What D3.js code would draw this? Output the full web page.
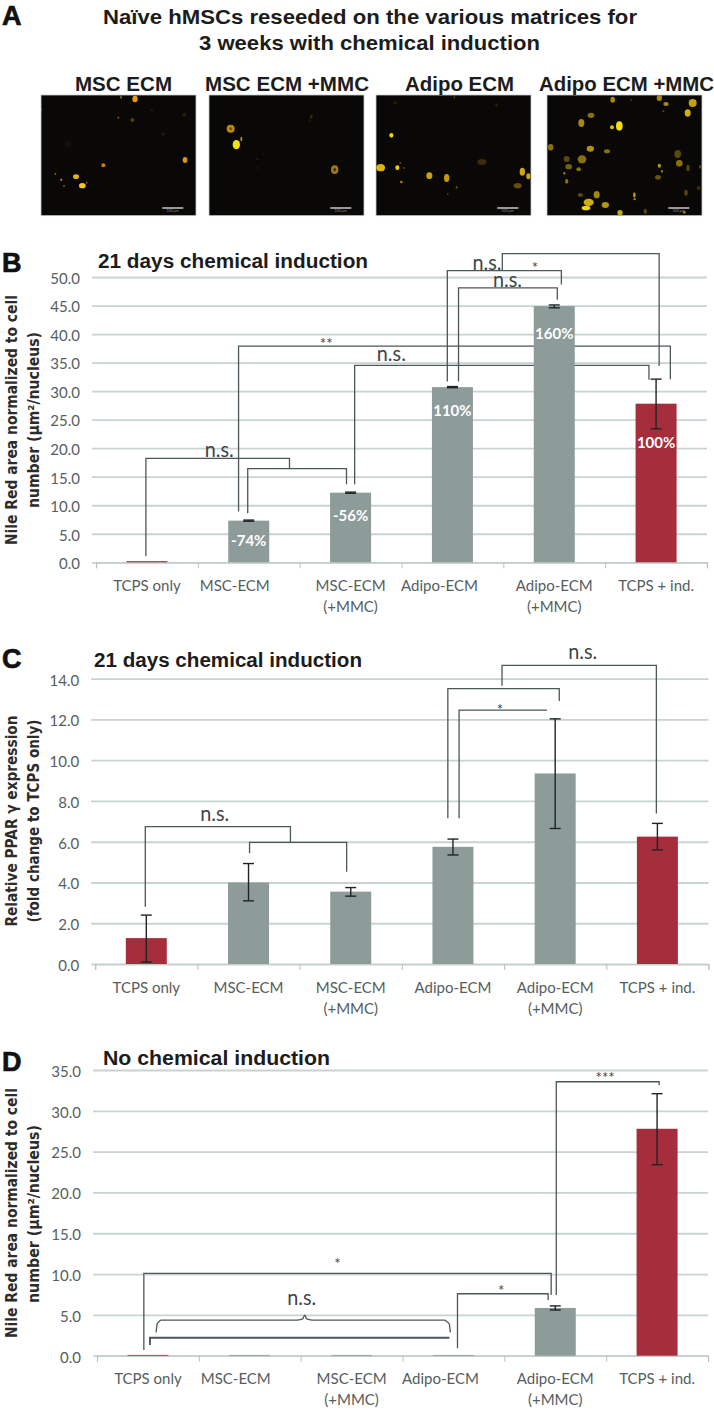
<!DOCTYPE html>
<html><head><meta charset="utf-8">
<style>html,body{margin:0;padding:0;background:#fff}svg{display:block}</style>
<script src="https://cdn.jsdelivr.net/npm/d3@7"></script></head><body>
<script>
const categories = ["TCPS only","MSC-ECM","MSC-ECM (+MMC)","Adipo-ECM","Adipo-ECM (+MMC)","TCPS + ind."];
const valuesB = [0.2,7.3,12.2,30.7,44.9,27.8];
const upperB  = [0.2,7.4,12.3,30.8,45.1,32.1];
const lowerB  = [0.2,7.2,12.1,30.6,44.6,23.4];
const percentB = ["","-74%","-56%","110%","160%","100%"];
const percentAtB = [0,3.7,8.2,26.5,40,20.9];
const valuesC = [1.27,4.0,3.55,5.75,9.35,6.25];
const upperC  = [2.4,4.93,3.75,6.13,12.03,6.9];
const lowerC  = [0.1,3.1,3.33,5.35,6.65,5.6];
const valuesD = [0.1,0.1,0.1,0.1,5.85,27.8];
const upperD  = [0.1,0.1,0.1,0.1,6.1,32.1];
const lowerD  = [0.1,0.1,0.1,0.1,5.6,23.4];
const barKinds = ["red","grey","grey","grey","grey","red"];
// significance brackets: [band units, value]
const bracketsB = [
 [[0.49,1.1],[0.49,18.2],[1.90,18.2],[1.90,16.4]],
 [[1.49,8.6],[1.49,16.4],[2.46,16.4],[2.46,13.7]],
 [[1.40,8.9],[1.40,37.9],[5.64,37.9],[5.64,32.1]],
 [[2.54,13.7],[2.54,34.5],[5.43,34.5],[5.43,32.0]],
 [[3.45,31.7],[3.45,51.1],[4.57,51.1],[4.57,48.7]],
 [[3.56,31.7],[3.56,48.1],[4.53,48.1],[4.53,46.0]],
 [[3.99,51.1],[3.99,54.1],[5.53,54.1],[5.53,34.4]]
];
const marksB = [["n.s.",1.21,18.4],["n.s.",2.90,35.3],["n.s.",3.84,51.3],["n.s.",4.04,48.2],["*",4.31,50.7],["**",2.26,37.4]];
const bracketsC = [
 [[0.49,2.81],[0.49,6.74],[1.91,6.74],[1.91,5.97]],
 [[1.51,5.43],[1.51,5.97],[2.46,5.97],[2.46,4.53]],
 [[3.45,7.15],[3.45,13.51],[4.54,13.51],[4.54,12.9]],
 [[3.56,7.15],[3.56,12.46],[4.42,12.46]],
 [[3.98,13.66],[3.98,14.65],[5.49,14.65],[5.49,7.39]]
];
const marksC = [["n.s.",1.17,7.02],["n.s.",4.77,14.95],["*",3.96,12.2]];
const bracketsD = [
 [[0.46,0.69],[0.46,10.09],[4.46,10.09],[4.46,7.43]],
 [[3.54,0.9],[3.54,7.59],[4.43,7.59],[4.43,6.82]],
 [[4.51,7.43],[4.51,33.56],[5.52,33.56],[5.52,33.16]]
];
const thickD = [[[0.52,1.31],[0.52,2.2],[3.46,2.2]]];
const braceD = [[0.58,2.86],[0.59,3.9],[0.63,4.37],[1.97,4.37],[2.02,4.5],[2.04,4.98],[2.06,4.5],[2.11,4.37],[3.41,4.37],[3.46,3.9],[3.47,2.86]];
const marksD = [["*",2.36,10.6],["n.s.",2.01,6.2],["*",3.97,7.3],["***",4.99,33.4]];
const labelOffsetsB = [0,-14,0,-13,0,0];
const labelOffsetsC = [0,0,0,0,0,0];
const photoTitles = ["MSC ECM","MSC ECM +MMC","Adipo ECM","Adipo ECM +MMC"];
const photo1 = [[285,15,8,10,'#e89a10'],[243,10,3,5,'#7a5a10'],[2,48,3,5,'#c08010'],[235,71,3,3,'#8a5a10'],[277,78,6,6,'#5a3a08'],[433,62,6,6,'#2a1a06'],[190,214,6,6,'#d07a10'],[435,198,7,9,'#d89a10'],[108,248,9,7,'#e8b010'],[127,275,10,8,'#f4c810'],[64,257,3,3,'#e0a010'],[46,240,3,3,'#806010'],[72,276,3,3,'#806010'],[140,266,3,3,'#805010'],[85,150,10,12,'#140f08'],[370,120,6,6,'#1e1208'],[335,48,6,4,'#1c1208']];
const photo2 = [[68,104,12,12,'#b88a10'],[68,104,4,4,'#6a4a08'],[85,152,11,14,'#eee400'],[100,135,3,7,'#b09010'],[380,227,11,13,'#a07a10'],[380,227,4,5,'#3a2a08'],[310,68,4,6,'#3a2a08'],[305,82,3,3,'#2a1c08'],[148,195,4,4,'#241808'],[165,180,4,3,'#1e1408'],[150,222,4,4,'#1e1408'],[370,170,3,3,'#181208'],[368,190,3,3,'#181208']];
const photo3 = [[49,124,6,7,'#f0d000'],[17,221,13,11,'#e0b410'],[67,221,6,7,'#f0d000'],[76,207,3,3,'#5a4408'],[86,222,3,3,'#5a4408'],[79,264,4,4,'#a08010'],[163,245,9,10,'#c8a010'],[215,252,8,12,'#c09a10'],[245,280,3,4,'#6a4a08'],[218,300,3,3,'#4a3a08'],[321,204,14,9,'#3a2a08'],[442,233,8,12,'#d0a810'],[460,247,6,9,'#d0a810'],[428,275,12,8,'#6a4a08'],[365,33,5,5,'#2a1c06'],[60,27,6,5,'#241a06'],[238,10,2,3,'#6a5a08']];
const photo4 = [[200,17,7,9,'#a88810'],[255,18,3,3,'#4a3a08'],[340,12,8,9,'#a88810'],[360,30,8,6,'#a88810'],[352,52,3,3,'#5a4a08'],[440,27,12,12,'#c0a010'],[425,57,9,11,'#d0b010'],[135,64,10,8,'#8a7010'],[106,87,9,12,'#a88810'],[220,96,10,14,'#f8e000'],[198,100,6,6,'#d8c000'],[14,160,8,10,'#8a7010'],[133,164,11,9,'#b09010'],[183,172,9,6,'#8a7010'],[62,195,9,9,'#5a4808'],[108,196,13,12,'#8a7010'],[68,218,10,8,'#7a6008'],[98,226,7,6,'#8a7010'],[55,238,3,4,'#a08808'],[62,262,5,7,'#8a7010'],[395,180,10,12,'#5a4808'],[400,208,10,10,'#8a7010'],[426,222,5,10,'#5a4808'],[340,215,5,6,'#b09810'],[348,232,3,4,'#a08808'],[336,250,9,7,'#6a5408'],[462,218,3,6,'#5a4808'],[458,282,6,6,'#3a2c08'],[420,296,5,9,'#5a4808'],[103,303,8,6,'#5a4808'],[152,302,9,11,'#a08808'],[128,325,15,11,'#d0b010'],[120,342,13,7,'#f0d800'],[178,333,11,9,'#b09810'],[265,303,4,8,'#b09810'],[266,316,4,3,'#a08808'],[222,356,8,8,'#c0a810'],[298,352,5,8,'#5a4808'],[415,355,4,4,'#a08808']];

const svg = d3.select("body").append("svg").attr("width",714).attr("height",1410);
const defs = svg.append("defs");
defs.append("filter").attr("id","soft").attr("x","-30%").attr("y","-30%").attr("width","160%").attr("height","160%")
  .append("feGaussianBlur").attr("stdDeviation",0.7);

const HEAD = "'Liberation Sans',Arial,sans-serif";
const BODY = "Lato,'Open Sans',sans-serif";
function fit(sel,x,y,size,len){
  return sel.attr("x",x).attr("y",y).attr("font-family",HEAD).attr("font-weight","bold")
   .attr("font-size",size).attr("fill","#1c1c1c")
   .attr("textLength",len).attr("lengthAdjust","spacingAndGlyphs");
}
function letter(t,y){ svg.append("text").text(t).attr("x",2).attr("y",y).attr("font-family",HEAD)
  .attr("font-weight","bold").attr("font-size",27).attr("fill","#111")
  .attr("stroke","#111").attr("stroke-width",0.7); }

// Panel A
letter("A",25);
fit(svg.append("text").text("Naïve hMSCs reseeded on the various matrices for"),103,24,21,534);
fit(svg.append("text").text("3 weeks with chemical induction"),199,50,21,341);

const photoBoxes = [40,208,375,546];
const photoLabelX = [75,205,405,539];
const photoLabelW = [97,164,109,175];
[photo1,photo2,photo3,photo4].forEach((spots,i)=>{
  const px = d3.scaleLinear().domain([0,480]).range([photoBoxes[i],photoBoxes[i]+160]);
  const py = d3.scaleLinear().domain([0,372]).range([94,218]);
  const cid = "clip"+i;
  defs.append("clipPath").attr("id",cid).append("rect")
    .attr("x",px(3)).attr("y",py(3)).attr("width",px(468)-px(3)).attr("height",py(365)-py(3));
  svg.append("rect").attr("x",px(3)).attr("y",py(3)).attr("width",px(468)-px(3)).attr("height",py(365)-py(3))
    .attr("fill","#0a0806").attr("stroke","#c4cccc").attr("stroke-width",0.8);
  const g = svg.append("g").attr("clip-path",`url(#${cid})`).append("g").attr("filter","url(#soft)");
  g.selectAll("ellipse").data(spots).join("ellipse")
    .attr("cx",d=>px(d[0])).attr("cy",d=>py(d[1]))
    .attr("rx",d=>px(d[2])-px(0)).attr("ry",d=>py(d[3])-py(0)).attr("fill",d=>d[4]);
  svg.append("line").attr("x1",px(367)).attr("x2",px(430)).attr("y1",py(342)).attr("y2",py(342))
    .attr("stroke","#d4dada").attr("stroke-width",1.4);
  svg.append("text").text("100 µm").attr("x",px(398)).attr("y",py(355)).attr("text-anchor","middle")
    .attr("font-size",3.5).attr("font-family",BODY).attr("fill","#8a9090");
  fit(svg.append("text").text(photoTitles[i]),photoLabelX[i],91,19.5,photoLabelW[i]);
});

function panel(c){
  const w = c.right-c.left;
  const u = d3.scaleLinear().domain([0,6]).range([c.left,c.right]);
  const band = d3.scaleBand().domain(categories).range([c.left,c.right]);
  const y = d3.scaleLinear().domain([0,c.max]).range([c.bottom,c.top]);
  const barW = 41;
  const mid = i=>band(categories[i])+band.bandwidth()/2;

  letter(c.letter,c.letterY);
  fit(svg.append("text").text(c.title),c.titleX,c.titleY,20,c.titleW);

  // y axis + grid
  const ya = svg.append("g").attr("transform",`translate(${c.left},0)`)
    .call(d3.axisLeft(y).tickValues(d3.range(0,c.max+c.step/2,c.step)).tickFormat(d3.format(".1f")).tickSize(-w));
  ya.select(".domain").remove();
  ya.selectAll("line").attr("x1",-4).attr("x2",w).attr("stroke","#c9d3d1").attr("stroke-width",1.8);
  ya.selectAll("text").attr("x",-16).attr("dy","0.42em").attr("font-family",BODY).attr("font-size",15).attr("fill","#555e60");

  // x axis boundary ticks
  const xa = svg.append("g").attr("transform",`translate(0,${c.bottom})`)
    .call(d3.axisBottom(u).tickValues(d3.range(7)).tickFormat("").tickSize(6));
  xa.select(".domain").attr("stroke","#c4cccc").attr("stroke-width",1.2);
  xa.selectAll("line").attr("stroke","#b8c0c0").attr("stroke-width",1);

  // x labels
  const xl = svg.append("g").attr("transform",`translate(0,${c.bottom})`)
    .call(d3.axisBottom(band).tickSize(0).tickFormat(""));
  xl.select(".domain").remove();
  xl.selectAll("text").remove();
  xl.selectAll(".tick").each(function(d,i){
    const t = d3.select(this).append("text").attr("text-anchor","middle")
      .attr("font-family",BODY).attr("font-size",15).attr("fill","#555e60");
    const parts = d.split(" (");
    t.append("tspan").attr("x",c.labelOffset[i]).attr("y",c.labelY).text(parts[0]);
    if(parts[1]) t.append("tspan").attr("x",c.labelOffset[i]).attr("y",c.labelY+21).text("("+parts[1]);
  });

  // brackets (behind the bars)
  const line = d3.line().x(d=>u(d[0])).y(d=>y(d[1]));
  const ink = "#4c5759";
  svg.append("g").selectAll("path").data(c.brackets).join("path").attr("d",line)
    .attr("fill","none").attr("stroke",ink).attr("stroke-width",1.3);
  if(c.thick) svg.append("g").selectAll("path").data(c.thick).join("path").attr("d",line)
    .attr("fill","none").attr("stroke",ink).attr("stroke-width",1.9);
  if(c.brace){
    const n = c.brace.length;
    svg.append("path").attr("d",d3.line().x(d=>u(d[0])).y(d=>y(d[1])).curve(d3.curveMonotoneX)(c.brace.slice(1,-1)))
      .attr("fill","none").attr("stroke",ink).attr("stroke-width",1.3);
    [[c.brace[0],c.brace[1]],[c.brace[n-2],c.brace[n-1]]].forEach(s=>
      svg.append("path").attr("d",line(s)).attr("fill","none").attr("stroke",ink).attr("stroke-width",1.3));
  }

  // bars
  svg.append("g").selectAll("rect").data(c.values).join("rect")
    .attr("x",(d,i)=>mid(i)-barW/2)
    .attr("width",barW).attr("y",d=>y(d)).attr("height",d=>y(0)-y(d))
    .attr("fill",(d,i)=>c.kinds[i]==="red"?"#a52d3c":"#8d9b99");

  // error bars
  c.values.forEach((v,i)=>{
    if(c.upper[i]-c.lower[i]<=0) return;
    const cx = mid(i);
    const g = svg.append("g").attr("stroke","#1e2426").attr("stroke-width",1.4);
    g.append("line").attr("x1",cx).attr("x2",cx).attr("y1",y(c.upper[i])).attr("y2",y(c.lower[i]));
    g.append("line").attr("x1",cx-5.5).attr("x2",cx+5.5).attr("y1",y(c.upper[i])).attr("y2",y(c.upper[i]));
    g.append("line").attr("x1",cx-5.5).attr("x2",cx+5.5).attr("y1",y(c.lower[i])).attr("y2",y(c.lower[i]));
  });

  // significance text
  svg.append("g").selectAll("text").data(c.marks).join("text")
    .text(d=>d[0]).attr("x",d=>u(d[1])).attr("y",d=>y(d[2]))
    .attr("text-anchor","middle").attr("font-family",BODY)
    .attr("font-size",d=>d[0]==="n.s."?22:15).attr("fill","#3c4648")
    .filter(d=>d[0]==="n.s.").attr("textLength",29).attr("lengthAdjust","spacingAndGlyphs");

  // percent labels
  if(c.percent) svg.append("g").selectAll("text").data(c.percent).join("text")
    .text(d=>d).attr("x",(d,i)=>mid(i))
    .attr("y",(d,i)=>y(c.percentAt[i])+5).attr("text-anchor","middle")
    .attr("font-family",BODY).attr("font-weight","bold").attr("font-size",15).attr("fill","#fff");

  // y title
  c.yLabel.forEach(l=>{
    svg.append("text").text(l.t).attr("transform",`translate(${l.x},${l.cy}) rotate(-90)`)
      .attr("text-anchor","middle").attr("font-family","'DejaVu Sans',sans-serif").attr("font-weight","bold")
      .attr("font-size",15).attr("fill","#2c2c2c").attr("textLength",l.len).attr("lengthAdjust","spacingAndGlyphs");
  });
}

panel({letter:"B",letterY:272,title:"21 days chemical induction",titleX:98,titleY:268,titleW:270,
  left:96,right:707,top:277,bottom:562.3,max:50,step:5,
  values:valuesB,upper:upperB,lower:lowerB,kinds:barKinds,brackets:bracketsB,marks:marksB,
  percent:percentB,percentAt:percentAtB,
  labelOffset:labelOffsetsB,labelY:29,
  yLabel:[{t:"Nile Red area normalized to cell",x:16.5,cy:420,len:250},{t:"number (µm²/nucleus)",x:39,cy:420,len:176}]});

panel({letter:"C",letterY:668,title:"21 days chemical induction",titleX:94,titleY:667,titleW:268,
  left:95.2,right:708.5,top:678.7,bottom:964,max:14,step:2,
  values:valuesC,upper:upperC,lower:lowerC,kinds:barKinds,brackets:bracketsC,marks:marksC,
  labelOffset:labelOffsetsC,labelY:29,
  yLabel:[{t:"Relative PPAR γ expression",x:16.5,cy:821,len:211},{t:"(fold change to TCPS only)",x:39,cy:821,len:203}]});

panel({letter:"D",letterY:1071,title:"No  chemical induction",titleX:103,titleY:1065,titleW:227,
  left:97,right:708,top:1070,bottom:1355.7,max:35,step:5,
  values:valuesD,upper:upperD,lower:lowerD,kinds:barKinds,brackets:bracketsD,thick:thickD,brace:braceD,marks:marksD,
  labelOffset:labelOffsetsB,labelY:28,
  yLabel:[{t:"Nile Red area normalized to cell",x:16.5,cy:1213,len:250},{t:"number (µm²/nucleus)",x:39,cy:1214,len:178}]});
</script>
</body></html>
